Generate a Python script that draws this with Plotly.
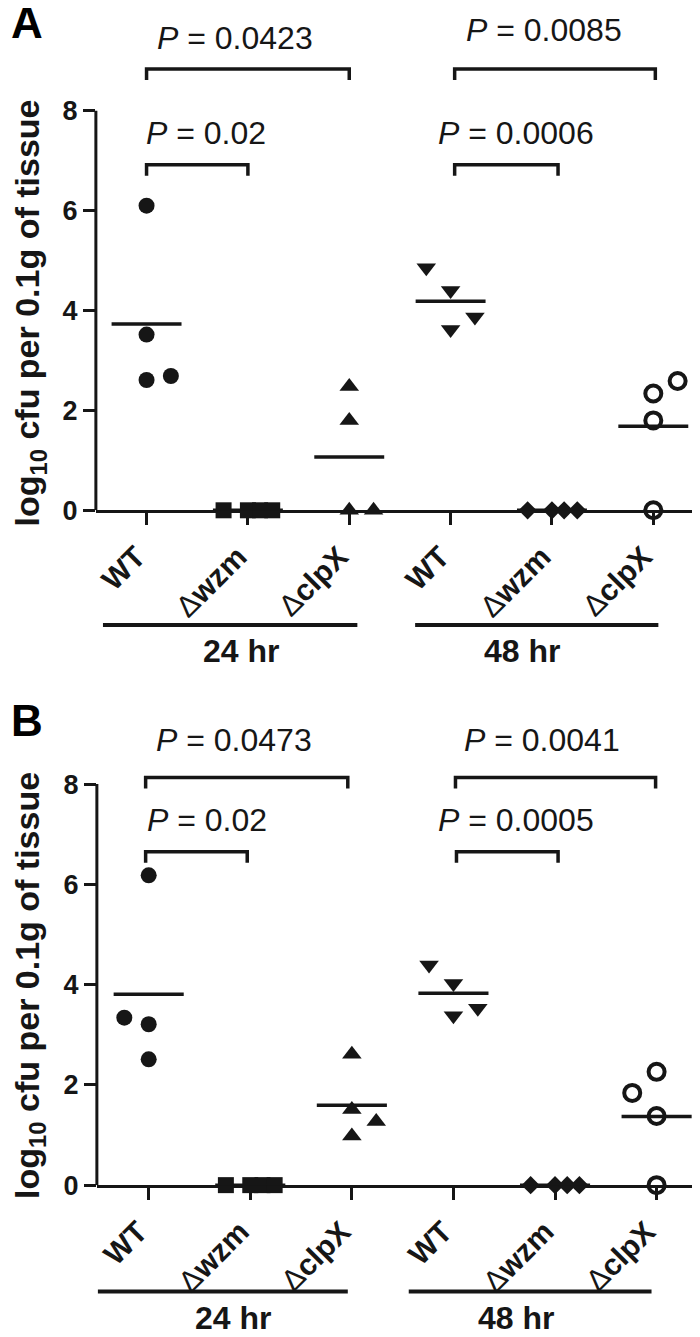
import numpy as np
import plotly.graph_objects as go

# ---- data (log10 cfu per 0.1 g of tissue) ----
categories = ["WT", "Δwzm", "ΔclpX", "WT", "Δwzm", "ΔclpX"]
time_groups = ["24 hr", "48 hr"]

# Panel A
a_wt_24 = [6.10, 3.52, 2.61, 2.69]
a_wzm_24 = [0, 0, 0, 0]
a_clpx_24 = [2.48, 1.80, 0, 0]
a_wt_48 = [4.86, 4.40, 3.87, 3.62]
a_wzm_48 = [0, 0, 0, 0]
a_clpx_48 = [2.34, 2.59, 1.80, 0]
a_pvalues = ["0.02", "0.0423", "0.0006", "0.0085"]

# Panel B
b_wt_24 = [6.18, 3.34, 3.21, 2.51]
b_wzm_24 = [0, 0, 0, 0]
b_clpx_24 = [2.61, 1.51, 1.27, 0.98]
b_wt_48 = [4.39, 4.02, 3.53, 3.38]
b_wzm_48 = [0, 0, 0, 0]
b_clpx_48 = [2.26, 1.84, 1.38, 0]
b_pvalues = ["0.02", "0.0473", "0.0005", "0.0041"]

# ---- styling ----
FONT = "Liberation Sans, Arial, sans-serif"
INK = "#161616"
W, H = 700, 1337

symbols = ["circle", "square", "triangle-up", "triangle-down", "diamond", "circle-open"]
sizes = [16, 16, 17, 17, 14, 16]

# horizontal scatter of points within a column (fraction of category spacing)
jitter_a = [[0, 0, 0, 0.24], [-0.24, 0, 0.12, 0.24], [0, 0, 0, 0.24],
            [-0.24, 0, 0.24, 0], [-0.24, 0, 0.12, 0.25], [0, 0.24, 0, 0]]
jitter_b = [[0, -0.24, 0, 0], [-0.24, 0, 0.12, 0.24], [0, 0, 0.24, 0],
            [-0.24, 0, 0.24, 0], [-0.24, 0, 0.12, 0.24], [0, -0.24, 0, 0]]


def px_y(px):
    return 1 - px / H


panels = [
    dict(letter="A", xa="x", ya="y", letter_y=15,
         values=[a_wt_24, a_wzm_24, a_clpx_24, a_wt_48, a_wzm_48, a_clpx_48],
         jitter=jitter_a, pvalues=a_pvalues,
         # bracket: x0, x1, top, label x, label y
         brackets=[(0, 1, 6.92, 0.59, 7.55), (0, 2, 8.84, 0.87, 9.45),
                   (3.04, 4.06, 6.92, 3.65, 7.55), (3.04, 5.02, 8.84, 3.92, 9.62)],
         group_lines=[(-0.43, 2.08), (2.65, 5.05)], group_line_y=624,
         group_label_x=[0.93, 3.70], group_label_y=650,
         title_y=308),
    dict(letter="B", xa="x2", ya="y2", letter_y=721,
         values=[b_wt_24, b_wzm_24, b_clpx_24, b_wt_48, b_wzm_48, b_clpx_48],
         jitter=jitter_b, pvalues=b_pvalues,
         brackets=[(-0.03, 0.97, 6.65, 0.57, 7.28), (-0.03, 1.96, 8.13, 0.84, 8.87),
                   (3.03, 4.03, 6.65, 3.62, 7.29), (3.02, 4.99, 8.13, 3.87, 8.87)],
         group_lines=[(-0.5, 1.96), (2.56, 4.95)], group_line_y=1298,
         group_label_x=[0.83, 3.62], group_label_y=1325,
         title_y=988),
]

fig = go.Figure()
shapes = []
annotations = []

for p in panels:
    # points
    for i, vals in enumerate(p["values"]):
        xs = [i + j for j in p["jitter"][i]]
        open_sym = symbols[i].endswith("open")
        fig.add_trace(go.Scatter(
            x=xs, y=vals, mode="markers", xaxis=p["xa"], yaxis=p["ya"],
            cliponaxis=False, showlegend=False, hoverinfo="skip",
            marker=dict(symbol=symbols[i], size=sizes[i], color=INK,
                        line=dict(width=4 if open_sym else 0, color=INK)),
        ))
    # mean lines
    mx, my = [], []
    for i, vals in enumerate(p["values"]):
        m = float(np.mean(vals))
        mx += [i - 0.345, i + 0.345, None]
        my += [m, m, None]
    fig.add_trace(go.Scatter(x=mx, y=my, mode="lines", xaxis=p["xa"], yaxis=p["ya"],
                             line=dict(color=INK, width=3.5), showlegend=False,
                             hoverinfo="skip"))

    # y axis line (only up to 8)
    shapes.append(dict(type="line", xref=p["xa"] + " domain", yref=p["ya"],
                       x0=0, x1=0, y0=0, y1=8, line=dict(color=INK, width=3)))
    # significance brackets
    for (x0, x1, top, lx, ly), pv in zip(p["brackets"], p["pvalues"]):
        leg = top - 0.22
        shapes.append(dict(type="path", xref=p["xa"], yref=p["ya"],
                           path=f"M {x0},{leg} L {x0},{top} L {x1},{top} L {x1},{leg}",
                           line=dict(color=INK, width=3.5)))
        annotations.append(dict(xref=p["xa"], yref=p["ya"], x=lx, y=ly,
                                text=f"<i>P</i> = {pv}", showarrow=False,
                                xanchor="center", yanchor="middle",
                                font=dict(family=FONT, size=32, color=INK)))
    # time group underlines and labels
    for (x0, x1), gx, g in zip(p["group_lines"], p["group_label_x"], time_groups):
        shapes.append(dict(type="line", xref=p["xa"], yref="paper",
                           x0=x0, x1=x1, y0=px_y(p["group_line_y"]), y1=px_y(p["group_line_y"]),
                           line=dict(color=INK, width=4)))
        annotations.append(dict(xref=p["xa"], yref="paper", x=gx, y=px_y(p["group_label_y"]),
                                text=g, showarrow=False, xanchor="center", yanchor="middle",
                                font=dict(family=FONT, size=32, color=INK, weight="bold")))
    # panel letter
    annotations.append(dict(xref="paper", yref="paper", x=18 / W, y=px_y(p["letter_y"]),
                            text=p["letter"], showarrow=False, xanchor="center",
                            yanchor="middle",
                            font=dict(family=FONT, size=44, color="black", weight="bold")))
    # y title
    annotations.append(dict(xref="paper", yref="paper", x=21 / W, y=px_y(p["title_y"]),
                            text="log<sub>10</sub> cfu per 0.1g of tissue", textangle=-90,
                            showarrow=False, xanchor="center", yanchor="middle",
                            font=dict(family=FONT, size=34, color=INK, weight="bold")))

ticktext = [c.replace("Δ", "<span style='font-weight:normal'>Δ</span>") for c in categories]

xaxis_common = dict(
    tickmode="array", tickvals=list(range(len(categories))), ticktext=ticktext,
    tickangle=-45, ticks="outside", ticklen=12, tickwidth=3, tickcolor=INK,
    ticklabelstandoff=2, ticklabelshift=-10,
    showline=True, linewidth=3, linecolor=INK, showgrid=False, zeroline=False,
    tickfont=dict(family=FONT, size=30, color=INK, weight="bold"), layer="below traces",
)
yaxis_common = dict(
    range=[0, 9.7], tickmode="array", tickvals=[0, 2, 4, 6, 8],
    ticks="outside", ticklen=12, tickwidth=3, tickcolor=INK,
    showline=False, showgrid=False, zeroline=False,
    tickfont=dict(family=FONT, size=27, color=INK, weight="bold"),
)

fig.update_layout(
    width=W, height=H, margin=dict(l=0, r=0, t=0, b=0),
    plot_bgcolor="white", paper_bgcolor="white",
    xaxis=dict(domain=[87 / W, 698 / W], range=[-0.5, 5.52], anchor="y", **xaxis_common),
    yaxis=dict(domain=[px_y(508), px_y(508 - 9.7 * 50.5)], anchor="x", **yaxis_common),
    xaxis2=dict(domain=[88 / W, 699.4 / W], range=[-0.51, 5.5], anchor="y2", **xaxis_common),
    yaxis2=dict(domain=[px_y(1190.5), px_y(1190.5 - 9.7 * 50.7)], anchor="x2", **yaxis_common),
    shapes=shapes, annotations=annotations,
)

fig.write_html("out.html")
